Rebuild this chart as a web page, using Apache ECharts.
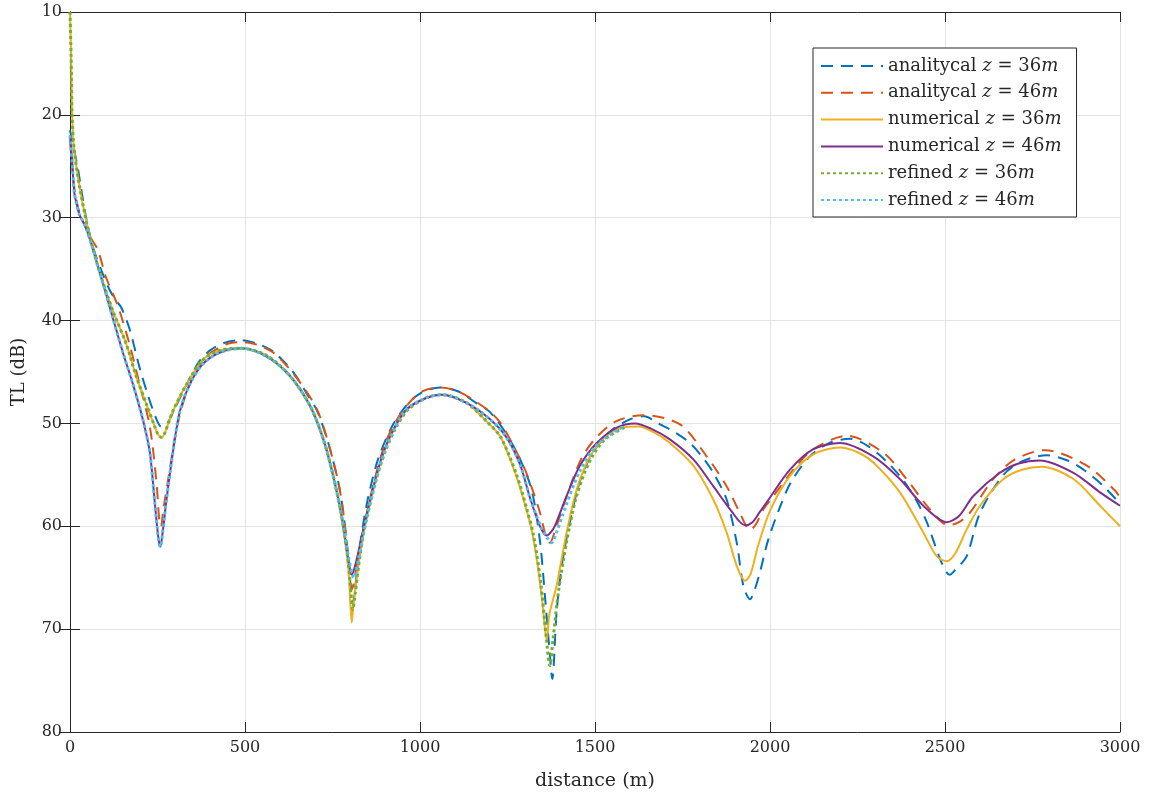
<!DOCTYPE html>
<html>
<head>
<meta charset="utf-8">
<script src="https://cdn.jsdelivr.net/npm/echarts@6/dist/echarts.min.js"></script>
<style>
  html, body { margin: 0; padding: 0; background: #fff; }
  #chart { width: 1150px; height: 796px; }
</style>
</head>
<body>
<div id="chart"></div>
<script>
// distance (m) / TL (dB), one pair of arrays per curve
const distAna36 = [0, 10, 22, 32, 46, 65, 94, 113, 130, 146, 170, 199, 223, 247, 260, 266, 275, 285, 300, 323, 350, 371, 400, 438, 486, 530, 576, 620, 648, 680, 705, 738, 767, 781, 795, 808, 818, 830, 850, 880, 920, 960, 1000, 1057, 1110, 1160, 1200, 1250, 1290, 1320, 1343, 1357, 1370, 1378, 1390, 1405, 1430, 1460, 1500, 1550, 1600, 1640, 1686, 1730, 1771, 1810, 1838, 1876, 1905, 1924, 1943, 1955, 1971, 1995, 2030, 2060, 2114, 2170, 2229, 2280, 2330, 2380, 2420, 2448, 2486, 2505, 2514, 2530, 2562, 2600, 2667, 2720, 2790, 2850, 2900, 2950, 3000];
const tlAna36 = [21.5, 23.2, 25.1, 27.2, 30.0, 32.8, 35.5, 37.0, 38.0, 38.7, 40.8, 44.6, 47.3, 49.6, 50.3, 50.3, 50.1, 49.6, 48.5, 46.9, 45.1, 43.9, 42.9, 42.2, 41.9, 42.2, 42.9, 44.3, 45.5, 47.3, 48.7, 51.9, 55.8, 58.7, 63.0, 67.5, 65.0, 61.5, 57.5, 53.5, 50.3, 48.3, 47.1, 46.5, 46.9, 48.0, 48.9, 51.2, 53.8, 56.6, 61.5, 66.8, 72.0, 74.85, 68.5, 63.85, 59.3, 55.3, 52.5, 50.6, 49.6, 49.3, 50.1, 50.9, 51.9, 53.4, 54.8, 57.4, 61.6, 65.8, 67.1, 66.3, 64.5, 61.3, 58.0, 55.7, 53.2, 51.9, 51.5, 52.2, 53.6, 55.5, 57.6, 59.6, 63.2, 64.5, 64.7, 64.2, 62.9, 58.7, 55.0, 53.7, 53.1, 53.6, 54.6, 56.0, 57.8];

const distAna46 = [0, 12, 27, 55, 79, 103, 137, 170, 199, 228, 247, 256, 260, 266, 285, 304, 333, 380, 447, 495, 576, 648, 705, 738, 767, 781, 795, 806, 816, 840, 870, 900, 940, 1000, 1057, 1110, 1190, 1229, 1267, 1300, 1324, 1343, 1360, 1371, 1385, 1420, 1460, 1500, 1560, 1638, 1743, 1819, 1876, 1914, 1943, 1960, 1981, 2010, 2067, 2124, 2219, 2324, 2390, 2457, 2510, 2540, 2571, 2638, 2700, 2786, 2905, 2985, 3000];
const tlAna46 = [22.5, 27.0, 29.5, 31.7, 33.1, 35.8, 38.6, 42.3, 46.2, 50.3, 55.7, 59.8, 60.0, 58.5, 54.5, 50.6, 47.0, 43.8, 42.3, 42.1, 43.0, 45.6, 48.6, 51.9, 55.8, 58.7, 63.0, 66.1, 64.5, 60.0, 55.5, 52.0, 49.3, 47.0, 46.5, 46.9, 48.6, 49.9, 52.2, 54.5, 56.7, 58.7, 61.0, 61.6, 60.5, 57.0, 53.5, 51.5, 49.8, 49.2, 50.1, 53.2, 56.1, 58.7, 60.35, 59.8, 58.35, 57.05, 54.5, 52.5, 51.2, 52.85, 55.4, 58.35, 59.9, 59.6, 58.7, 55.4, 53.5, 52.6, 54.1, 56.5, 57.2];

const distNum36 = [0, 3, 6, 12, 27, 51, 84, 122, 161, 189, 218, 242, 252, 261, 270, 294, 333, 380, 428, 490, 562, 629, 686, 724, 752, 776, 795, 801, 805, 810, 824, 840, 867, 895, 924, 962, 1019, 1062, 1133, 1190, 1230, 1276, 1305, 1320, 1335, 1350, 1362, 1370, 1390, 1419, 1448, 1486, 1530, 1580, 1624, 1670, 1714, 1781, 1838, 1876, 1905, 1929, 1945, 1965, 2000, 2057, 2124, 2200, 2250, 2295, 2371, 2438, 2476, 2505, 2530, 2562, 2600, 2667, 2720, 2776, 2867, 2943, 3000];
const tlNum36 = [10.0, 14.0, 20.0, 23.4, 26.9, 31.0, 35.2, 39.0, 42.3, 45.4, 48.1, 50.3, 51.1, 51.35, 51.0, 48.8, 46.2, 43.8, 42.9, 42.7, 43.4, 45.4, 48.3, 51.55, 55.1, 59.0, 64.0, 67.5, 69.35, 67.5, 63.85, 60.5, 56.4, 53.0, 50.7, 48.7, 47.5, 47.2, 48.0, 49.8, 51.3, 55.2, 58.5, 60.5, 63.5, 67.5, 71.1, 68.5, 65.8, 60.6, 56.4, 53.2, 51.3, 50.4, 50.3, 50.9, 51.9, 54.1, 57.4, 60.6, 63.85, 65.3, 64.6, 62.0, 58.5, 55.1, 53.0, 52.35, 52.8, 53.8, 56.7, 60.6, 62.9, 63.4, 62.6, 60.3, 58.0, 55.4, 54.5, 54.2, 55.4, 58.0, 60.0];

const distNum46 = [0, 6, 12, 20, 27, 46, 84, 122, 151, 180, 208, 228, 242, 252, 258, 265, 275, 294, 314, 342, 380, 429, 490, 562, 629, 686, 724, 752, 776, 795, 805, 815, 838, 867, 895, 924, 962, 1019, 1062, 1133, 1200, 1248, 1286, 1314, 1343, 1362, 1380, 1390, 1419, 1457, 1505, 1562, 1614, 1660, 1714, 1781, 1838, 1886, 1929, 1950, 1971, 1990, 2057, 2124, 2200, 2295, 2371, 2438, 2505, 2540, 2581, 2657, 2710, 2771, 2867, 2943, 3000];
const tlNum46 = [22.0, 24.4, 27.5, 28.8, 29.7, 31.0, 35.2, 39.7, 43.1, 46.2, 49.6, 52.8, 57.6, 61.0, 62.0, 60.5, 57.6, 52.8, 48.8, 46.2, 44.2, 43.1, 42.7, 43.5, 45.4, 48.3, 51.55, 55.1, 59.0, 63.2, 64.7, 63.8, 60.3, 56.1, 52.85, 50.6, 48.6, 47.5, 47.2, 48.0, 49.6, 51.4, 54.0, 57.2, 60.0, 60.9, 60.3, 59.6, 57.05, 54.1, 51.9, 50.4, 50.0, 50.5, 51.55, 53.5, 56.1, 58.35, 59.9, 59.6, 58.6, 57.7, 54.5, 52.5, 51.9, 53.2, 55.4, 58.0, 59.6, 59.0, 57.05, 54.8, 53.9, 53.6, 54.8, 56.7, 58.0];

const distRef36 = [0, 3, 6, 12, 27, 51, 84, 122, 161, 189, 218, 242, 252, 261, 270, 294, 333, 380, 428, 490, 562, 629, 686, 724, 752, 776, 795, 803, 808, 815, 828, 845, 870, 900, 930, 965, 1019, 1062, 1133, 1190, 1230, 1276, 1305, 1325, 1345, 1360, 1371, 1380, 1395, 1419, 1448, 1486, 1530, 1590];
const tlRef36 = [10.0, 14.0, 20.0, 23.4, 26.9, 31.0, 35.2, 39.0, 42.3, 45.4, 48.1, 50.3, 51.1, 51.35, 51.0, 48.8, 46.2, 43.8, 42.9, 42.7, 43.4, 45.4, 48.3, 51.55, 55.1, 59.0, 63.5, 66.5, 68.1, 66.5, 63.0, 59.5, 56.0, 52.8, 50.5, 48.7, 47.5, 47.2, 48.0, 49.8, 51.3, 55.0, 58.3, 61.0, 65.5, 70.5, 73.55, 71.0, 66.5, 61.5, 57.0, 53.6, 51.5, 50.3];

const distRef46 = [0, 6, 12, 20, 27, 46, 84, 122, 151, 180, 208, 228, 242, 252, 258, 265, 275, 294, 314, 342, 380, 429, 490, 562, 629, 686, 724, 752, 776, 797, 811, 822, 840, 867, 895, 924, 962, 1019, 1062, 1133, 1200, 1248, 1286, 1314, 1345, 1365, 1376, 1390, 1419, 1457, 1505, 1581];
const tlRef46 = [22.0, 24.4, 27.5, 28.8, 29.7, 31.0, 35.2, 39.7, 43.1, 46.2, 49.6, 52.8, 57.6, 61.0, 62.0, 60.5, 57.6, 52.8, 48.8, 46.2, 44.2, 43.1, 42.7, 43.5, 45.4, 48.3, 51.55, 55.1, 59.0, 63.2, 65.0, 63.5, 60.5, 56.5, 53.1, 50.7, 48.6, 47.5, 47.2, 48.0, 49.6, 51.4, 54.0, 57.2, 60.0, 61.2, 61.6, 60.6, 57.8, 54.6, 52.1, 50.3];

const xTicks = [0, 500, 1000, 1500, 2000, 2500, 3000];
const yTicks = [10, 20, 30, 40, 50, 60, 70, 80];

const FONT = "DejaVu Serif";
const AXIS_COLOR = "#262626";

function pairs(d, v) {
  return d.map((x, i) => [x, v[i]]);
}

function mkSeries(name, d, v, color, type, width) {
  return {
    name: name,
    type: "line",
    data: pairs(d, v),
    showSymbol: false,
    symbol: "none",
    smooth: 0.3,
    lineStyle: { color: color, width: width, type: type, cap: "butt" },
    itemStyle: { color: color },
    xAxisIndex: 0,
    yAxisIndex: 0,
  };
}

const chart = echarts.init(document.getElementById("chart"), null, { renderer: "canvas" });

// legend labels: z and m are set in italics like the LaTeX original
const labelMap = {
  "analitycal z = 36m": "{n|analitycal }{i|z}{n| = 36}{i|m}",
  "analitycal z = 46m": "{n|analitycal }{i|z}{n| = 46}{i|m}",
  "numerical z = 36m": "{n|numerical }{i|z}{n| = 36}{i|m}",
  "numerical z = 46m": "{n|numerical }{i|z}{n| = 46}{i|m}",
  "refined z = 36m": "{n|refined }{i|z}{n| = 36}{i|m}",
  "refined z = 46m": "{n|refined }{i|z}{n| = 46}{i|m}",
};

chart.setOption({
  animation: false,
  backgroundColor: "#fff",
  grid: { left: 70, right: 30, top: 12, bottom: 63 },
  legend: {
    orient: "vertical",
    left: 813,
    top: 48,
    padding: [9, 15, 8, 7],
    itemWidth: 62,
    itemHeight: 14,
    itemGap: 8.8,
    backgroundColor: "#fff",
    borderColor: AXIS_COLOR,
    borderWidth: 1,
    borderRadius: 0,
    itemStyle: { opacity: 0 },
    formatter: (name) => labelMap[name],
    textStyle: {
      fontFamily: FONT,
      fontSize: 18,
      color: AXIS_COLOR,
      rich: {
        n: { fontFamily: FONT, fontSize: 18, lineHeight: 17, color: AXIS_COLOR },
        i: { fontFamily: FONT, fontSize: 18, lineHeight: 17, fontStyle: "italic", color: AXIS_COLOR },
      },
    },
  },
  xAxis: [
    {
      type: "value",
      min: 0,
      max: 3000,
      interval: 500,
      name: "distance (m)",
      nameLocation: "middle",
      nameGap: 40,
      nameTextStyle: { fontFamily: FONT, fontSize: 19, color: AXIS_COLOR },
      axisLine: { show: true, lineStyle: { color: AXIS_COLOR, width: 1 } },
      axisTick: { show: true, inside: true, length: 10, lineStyle: { color: AXIS_COLOR } },
      axisLabel: {
        fontFamily: FONT,
        fontSize: 16,
        color: AXIS_COLOR,
        margin: 8,
        formatter: (v) => (xTicks.includes(v) ? String(v) : ""),
      },
      splitLine: { show: true, lineStyle: { color: "#e3e3e3", width: 1 } },
    },
    {
      type: "value",
      position: "top",
      min: 0,
      max: 3000,
      interval: 500,
      axisLine: { show: true, lineStyle: { color: AXIS_COLOR, width: 1 } },
      axisTick: { show: true, inside: true, length: 10, lineStyle: { color: AXIS_COLOR } },
      axisLabel: { show: false },
      splitLine: { show: false },
    },
  ],
  yAxis: [
    {
      type: "value",
      inverse: true,
      min: 10,
      max: 80,
      interval: 10,
      name: "TL (dB)",
      nameLocation: "middle",
      nameGap: 42,
      nameRotate: 90,
      nameTextStyle: { fontFamily: FONT, fontSize: 18, color: AXIS_COLOR },
      axisLine: { show: true, lineStyle: { color: AXIS_COLOR, width: 1 } },
      axisTick: { show: true, inside: true, length: 10, lineStyle: { color: AXIS_COLOR } },
      axisLabel: {
        fontFamily: FONT,
        fontSize: 16,
        color: AXIS_COLOR,
        margin: 8,
        formatter: (v) => (yTicks.includes(v) ? String(v) : ""),
      },
      splitLine: { show: true, lineStyle: { color: "#e3e3e3", width: 1 } },
    },
    {
      type: "value",
      position: "right",
      inverse: true,
      min: 10,
      max: 80,
      interval: 10,
      axisLine: { show: true, lineStyle: { color: AXIS_COLOR, width: 1 } },
      axisTick: { show: true, inside: true, length: 10, lineStyle: { color: AXIS_COLOR } },
      axisLabel: { show: false },
      splitLine: { show: false },
    },
  ],
  series: [
    mkSeries("analitycal z = 36m", distAna36, tlAna36, "#0072BD", [12, 8], 2),
    mkSeries("analitycal z = 46m", distAna46, tlAna46, "#D95319", [12, 8], 2),
    mkSeries("numerical z = 36m", distNum36, tlNum36, "#EDB120", "solid", 2),
    mkSeries("numerical z = 46m", distNum46, tlNum46, "#7E2F8E", "solid", 2),
    mkSeries("refined z = 36m", distRef36, tlRef36, "#77AC30", [3, 3], 3),
    mkSeries("refined z = 46m", distRef46, tlRef46, "#4DBEEE", [3, 3], 3),
  ],
});
</script>
</body>
</html>
